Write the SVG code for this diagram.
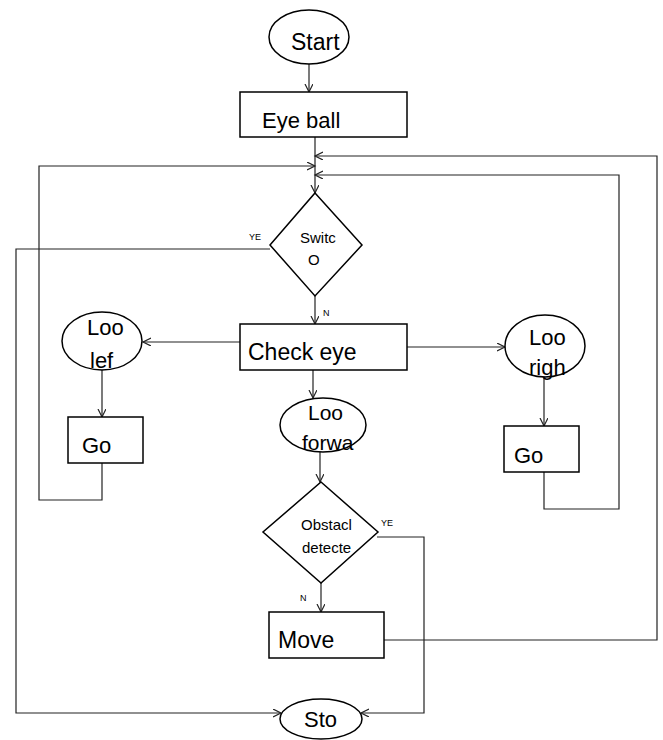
<svg xmlns="http://www.w3.org/2000/svg" width="663" height="740" viewBox="0 0 663 740">
<style>
.shape{fill:#fff;stroke:#000;stroke-width:1.5}
.conn{fill:none;stroke:#222;stroke-width:1.2}
.t{font-family:"Liberation Sans",Arial,sans-serif;fill:#000}
.big{font-size:22px}
.mid{font-size:15px}
.sm{font-size:9px}
</style>
<defs>
<marker id="arr" markerUnits="userSpaceOnUse" markerWidth="10" markerHeight="10" refX="8" refY="4" orient="auto">
<path d="M0,0 L8,4 L0,8" fill="none" stroke="#222" stroke-width="1.2"/>
</marker>
</defs>
<rect width="663" height="740" fill="#fff"/>
<g id="connectors">
<path class="conn" d="M309,64 V92" marker-end="url(#arr)"/>
<path class="conn" d="M315,137 V193" marker-end="url(#arr)"/>
<path class="conn" d="M384,640 H657 V156 H315" marker-end="url(#arr)"/>
<path class="conn" d="M102,463 V500 H39 V166 H315" marker-end="url(#arr)"/>
<path class="conn" d="M544,472 V509 H619 V175 H315" marker-end="url(#arr)"/>
<path class="conn" d="M270,249 H16 V713 H281" marker-end="url(#arr)"/>
<path class="conn" d="M315,296 V324" marker-end="url(#arr)"/>
<path class="conn" d="M240,342 H143" marker-end="url(#arr)"/>
<path class="conn" d="M407,347 H505" marker-end="url(#arr)"/>
<path class="conn" d="M313,370 V398" marker-end="url(#arr)"/>
<path class="conn" d="M102,370 V417" marker-end="url(#arr)"/>
<path class="conn" d="M544,378 V426" marker-end="url(#arr)"/>
<path class="conn" d="M320,452 V482" marker-end="url(#arr)"/>
<path class="conn" d="M377,537 H424 V713 H361" marker-end="url(#arr)"/>
<path class="conn" d="M321,583 V612" marker-end="url(#arr)"/>
<text class="t sm" x="249" y="240">YE</text>
<text class="t sm" x="323" y="316">N</text>
<text class="t sm" x="381" y="526">YE</text>
<text class="t sm" x="300" y="601">N</text>
</g>
<g id="start">
<ellipse class="shape" cx="309" cy="37" rx="40" ry="27"/>
<text class="t" font-size="23" x="291" y="50">Start</text>
</g>
<g id="eyeball">
<rect class="shape" x="240" y="92" width="167" height="45"/>
<text class="t big" x="262" y="128">Eye ball</text>
</g>
<g id="switch">
<polygon class="shape" points="315,193 362,245 315,296 270,245"/>
<text class="t mid" x="300" y="243">Switc</text>
<text class="t mid" x="308" y="265">O</text>
</g>
<g id="checkeye">
<rect class="shape" x="240" y="324" width="167" height="46"/>
<text class="t" font-size="23" x="248" y="360">Check eye</text>
</g>
<g id="lookleft">
<ellipse class="shape" cx="102" cy="341" rx="40" ry="29"/>
<text class="t big" x="87" y="335">Loo</text>
<text class="t big" x="90" y="368">lef</text>
</g>
<g id="goleft">
<rect class="shape" x="68" y="417" width="75" height="46"/>
<text class="t big" x="82" y="453">Go</text>
</g>
<g id="lookright">
<ellipse class="shape" cx="545" cy="346" rx="40" ry="31"/>
<text class="t big" x="529" y="345">Loo</text>
<text class="t big" x="529" y="375">righ</text>
</g>
<g id="goright">
<rect class="shape" x="504" y="426" width="75" height="46"/>
<text class="t big" x="514" y="463">Go</text>
</g>
<g id="lookforward">
<ellipse class="shape" cx="323" cy="425" rx="43" ry="27"/>
<text class="t" font-size="21" x="308" y="420">Loo</text>
<text class="t" font-size="21" x="302" y="450">forwa</text>
</g>
<g id="obstacle">
<polygon class="shape" points="321,482 378,532 321,583 263,532"/>
<text class="t mid" x="301" y="530">Obstacl</text>
<text class="t mid" x="302" y="553">detecte</text>
</g>
<g id="move">
<rect class="shape" x="269" y="612" width="115" height="46"/>
<text class="t" font-size="23" x="278" y="648">Move</text>
</g>
<g id="stop">
<ellipse class="shape" cx="321" cy="719" rx="41" ry="20"/>
<text class="t big" x="304" y="727">Sto</text>
</g>
</svg>
